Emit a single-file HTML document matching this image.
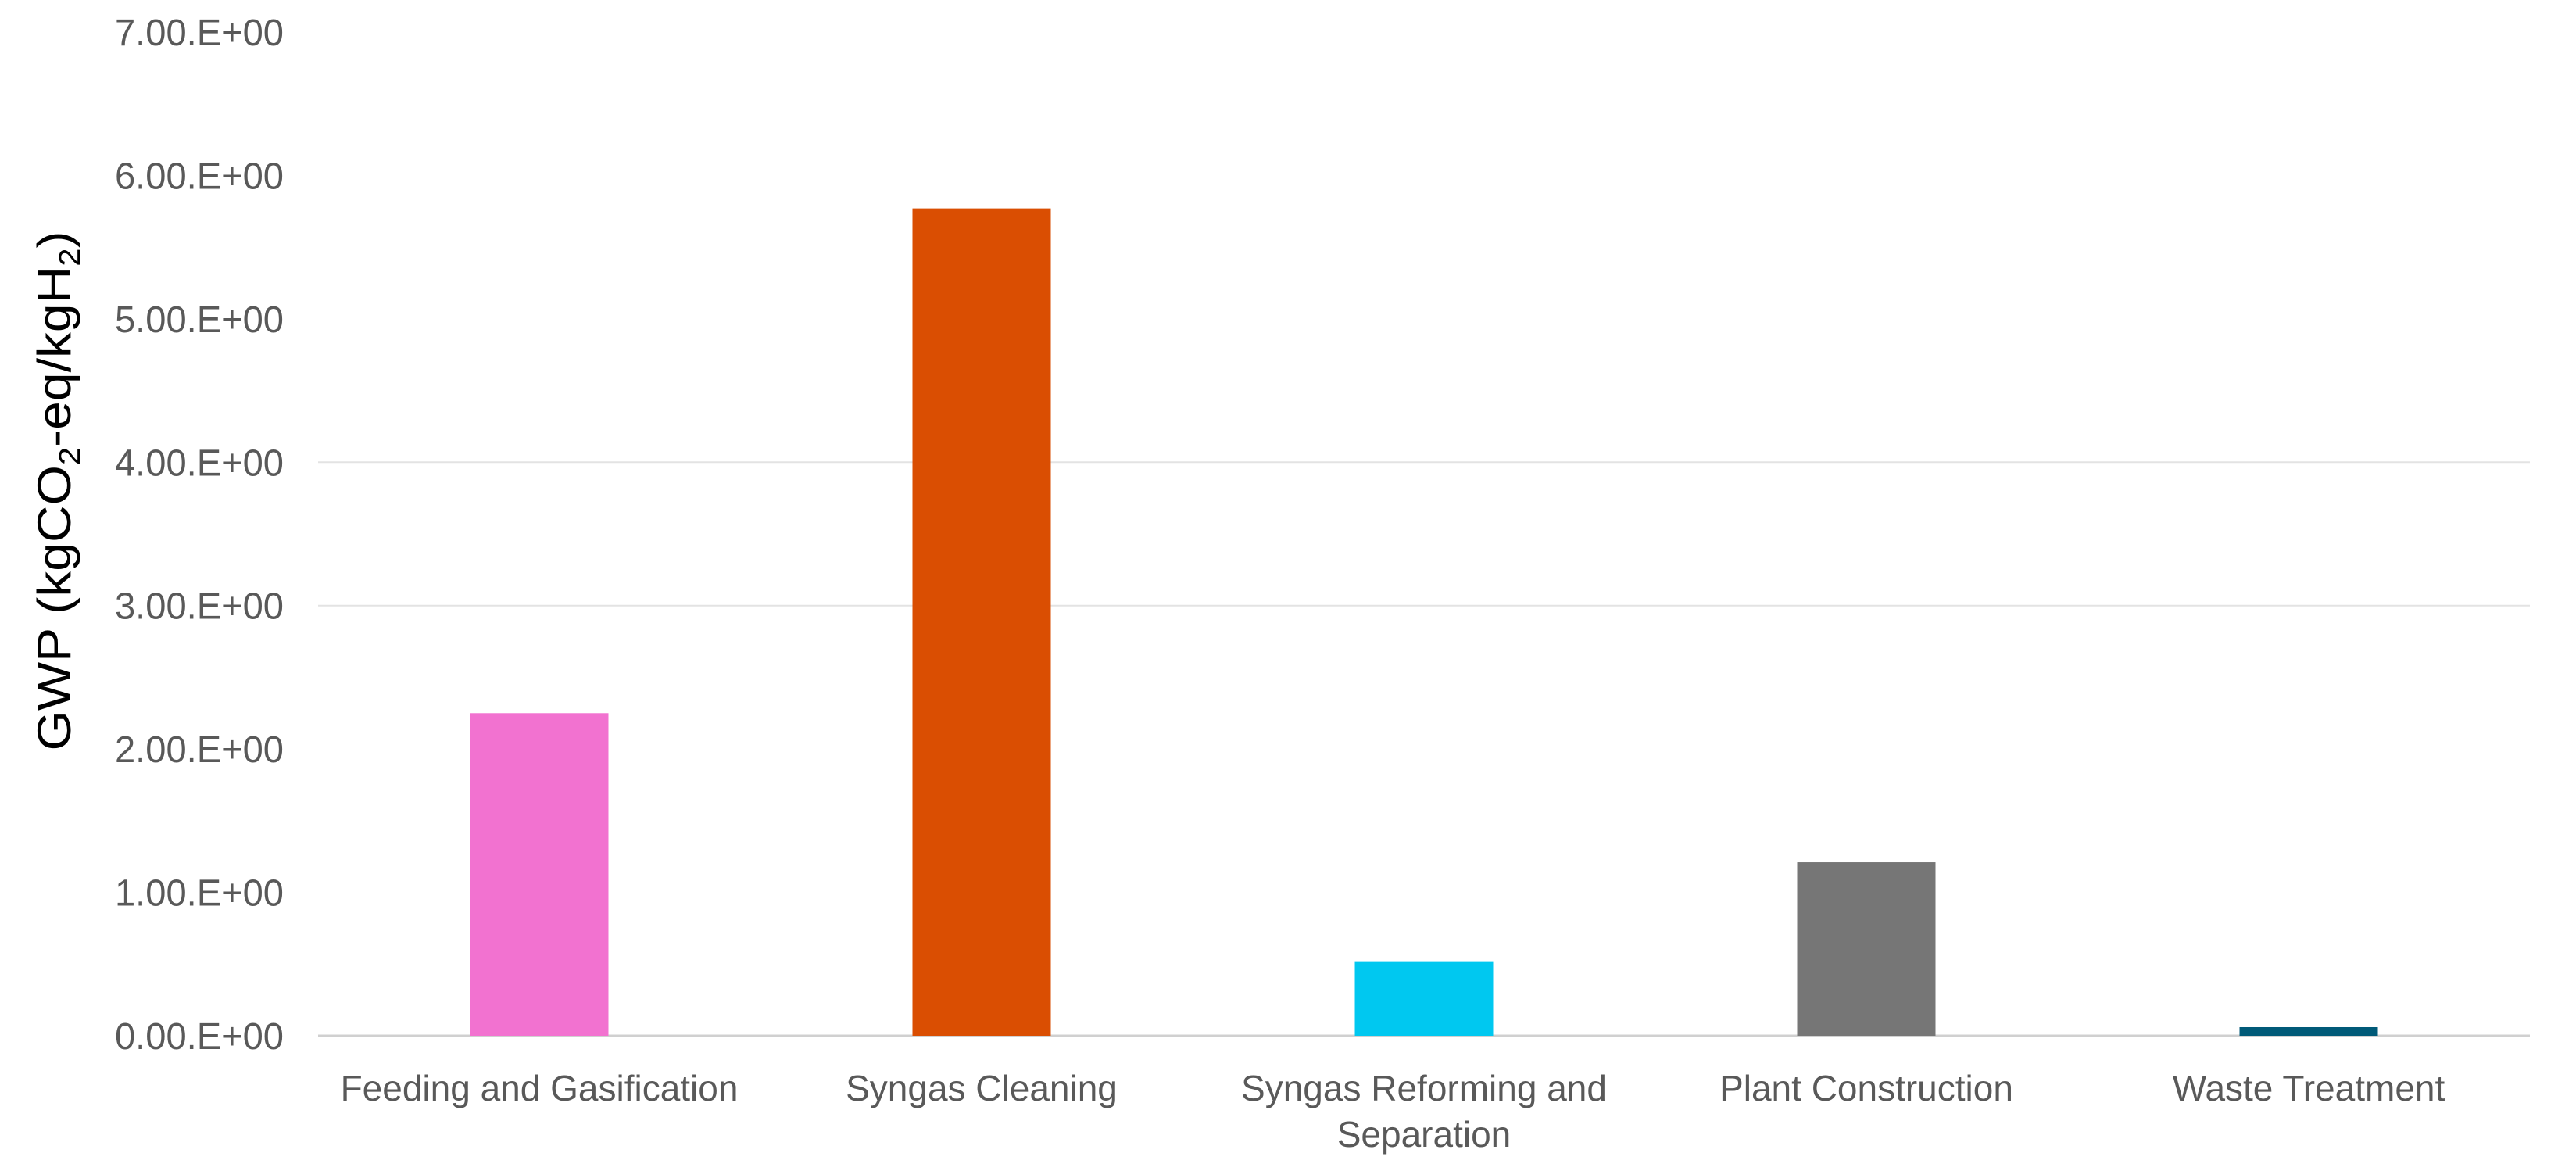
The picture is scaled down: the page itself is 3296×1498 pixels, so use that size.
<!DOCTYPE html>
<html><head><meta charset="utf-8"><style>
html,body{margin:0;padding:0;background:#fff;}
svg{display:block;}
</style></head><body>
<svg id="chart" width="3296" height="1498" viewBox="0 0 3296 1498" xmlns="http://www.w3.org/2000/svg" font-family="'Liberation Sans', sans-serif">
<g id="grid"></g>
<g id="yticks"></g>
<g id="bars"></g>
<g id="xlabels"></g>
<text transform="translate(90,628) rotate(-90)" text-anchor="middle" font-size="60" fill="#000" textLength="665" lengthAdjust="spacingAndGlyphs">GWP (kgCO<tspan font-size="38" dy="12">2</tspan><tspan dy="-12">-eq/kgH</tspan><tspan font-size="38" dy="12">2</tspan><tspan dy="-12">)</tspan></text>
</svg>
<script>
const categories = [["Feeding and Gasification"], ["Syngas Cleaning"], ["Syngas Reforming and", "Separation"], ["Plant Construction"], ["Waste Treatment"]];
const values = [2.25, 5.77, 0.52, 1.21, 0.06];
const colors = ["#f272d0", "#da4e02", "#00c8f0", "#767676", "#005a78"];
const tickValues = [0, 1, 2, 3, 4, 5, 6, 7];
const tickLabels = ["0.00.E+00", "1.00.E+00", "2.00.E+00", "3.00.E+00", "4.00.E+00", "5.00.E+00", "6.00.E+00", "7.00.E+00"];
const gridValues = [0, 3, 4];

const NS = "http://www.w3.org/2000/svg";
const plotLeft = 407, plotRight = 3237, y0 = 1325, yMax = 41, vMax = 7;
const yScale = v => y0 - (v / vMax) * (y0 - yMax);
const band = (plotRight - plotLeft) / categories.length;
const xCenter = i => plotLeft + band * (i + 0.5);
const barW = 177;

const grid = document.getElementById('grid');
const yt = document.getElementById('yticks');
gridValues.forEach(v => {
  const y = yScale(v);
  const l = document.createElementNS(NS, 'line');
  
  
  l.setAttribute('x1', plotLeft); l.setAttribute('x2', plotRight);
  l.setAttribute('y1', y); l.setAttribute('y2', y);
  l.setAttribute('stroke', v === 0 ? '#d0d0d0' : '#e3e3e3');
  l.setAttribute('stroke-width', v === 0 ? 3 : 2);
  grid.appendChild(l);
});
tickValues.forEach((v, i) => {
  const y = yScale(v);
  const t = document.createElementNS(NS, 'text');
  
  
  t.setAttribute('x', 363); t.setAttribute('y', y + 17);
  t.setAttribute('text-anchor', 'end');
  t.setAttribute('font-size', '48');
  t.setAttribute('fill', '#595959');
  t.setAttribute('textLength', '216');
  t.setAttribute('lengthAdjust', 'spacingAndGlyphs');
  t.textContent = tickLabels[i];
  yt.appendChild(t);
});

const bars = document.getElementById('bars');
const xl = document.getElementById('xlabels');
values.forEach((v, i) => {
  const r = document.createElementNS(NS, 'rect');
  
  
  const top = yScale(v);
  r.setAttribute('x', xCenter(i) - barW / 2);
  r.setAttribute('y', top);
  r.setAttribute('width', barW);
  r.setAttribute('height', y0 - top);
  r.setAttribute('fill', colors[i]);
  bars.appendChild(r);
  categories[i].forEach((line, j) => {
    const t = document.createElementNS(NS, 'text');
    
    
    t.setAttribute('x', xCenter(i));
    t.setAttribute('y', 1408 + j * 59);
    t.setAttribute('text-anchor', 'middle');
    t.setAttribute('font-size', '46');
    t.setAttribute('fill', '#595959');
    t.textContent = line;
    xl.appendChild(t);
  });
});
</script>
</body></html>
